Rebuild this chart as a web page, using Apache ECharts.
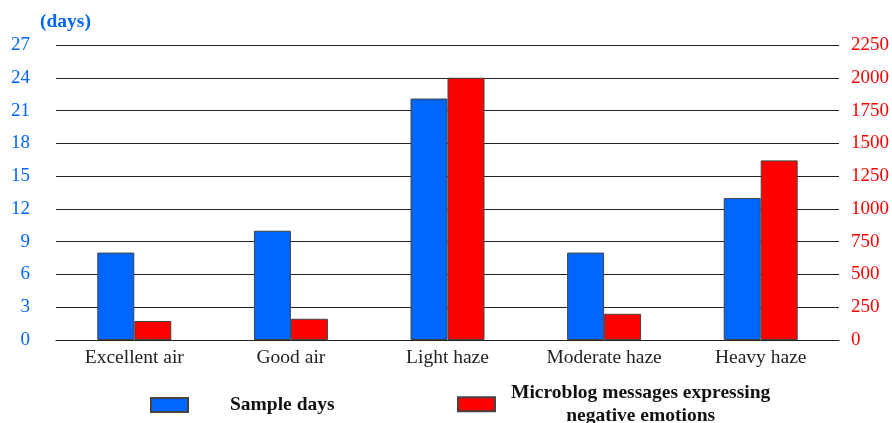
<!DOCTYPE html>
<html>
<head>
<meta charset="utf-8">
<script src="https://cdn.jsdelivr.net/npm/echarts@6/dist/echarts.min.js"></script>
<style>html,body{margin:0;padding:0;background:#fff;}#c{width:892px;height:423px;}</style>
</head>
<body>
<div id="c"></div>
<script>
const categories = ['Excellent air', 'Good air', 'Light haze', 'Moderate haze', 'Heavy haze'];
const sampleDays = [8, 10, 22.1, 8, 13];
const negativeMessages = [145, 162, 2000, 200, 1370];
const leftTicks = {min: 0, max: 27, interval: 3};
const rightTicks = {min: 0, max: 2250, interval: 250};
const seriesNames = ['Sample days', 'Microblog messages expressing negative emotions'];

const serif = '"Liberation Serif", "Times New Roman", serif';
const blue = '#0066ff';
const red = '#ff0000';

const chart = echarts.init(document.getElementById('c'));
chart.setOption({
  animation: false,
  grid: {left: 56, right: 50, top: 45, bottom: 83},
  legend: [
    {
      data: [seriesNames[0]],
      left: 150, top: 395, padding: 0,
      itemWidth: 37, itemHeight: 14,
      icon: 'rect',
      textStyle: {fontFamily: serif, fontSize: 19.5, fontWeight: 'bold', color: '#111', padding: [0, 0, 0, 37]}
    },
    {
      data: [seriesNames[1]],
      left: 457, top: 383, padding: 0,
      itemWidth: 37, itemHeight: 14,
      icon: 'rect',
      formatter: function () {
        return '{a|Microblog messages expressing}\n{a|negative emotions}';
      },
      textStyle: {
        fontFamily: serif, fontSize: 19.5, fontWeight: 'bold', color: '#111',
        rich: {a: {fontFamily: serif, fontSize: 19.5, fontWeight: 'bold', color: '#111', align: 'center', lineHeight: 22.5, padding: [0, 0, 0, 11]}}
      }
    }
  ],
  xAxis: {
    type: 'category',
    data: categories,
    axisLine: {show: true, lineStyle: {color: '#222', width: 1.2}},
    axisTick: {show: false},
    axisLabel: {fontFamily: serif, fontSize: 19.5, color: '#222', margin: 8}
  },
  yAxis: [
    {
      type: 'value',
      min: leftTicks.min, max: leftTicks.max, interval: leftTicks.interval,
      name: '(days)',
      nameLocation: 'end',
      nameGap: 13,
      nameTextStyle: {fontFamily: serif, fontSize: 19.5, fontWeight: 'bold', color: blue, align: 'left', padding: [0, 0, 0, -16]},
      axisLine: {show: false},
      axisTick: {show: false},
      axisLabel: {fontFamily: serif, fontSize: 19, color: blue, margin: 26},
      splitLine: {show: true, lineStyle: {color: '#222', width: 1.2}}
    },
    {
      type: 'value',
      min: rightTicks.min, max: rightTicks.max, interval: rightTicks.interval,
      axisLine: {show: false},
      axisTick: {show: false},
      axisLabel: {fontFamily: serif, fontSize: 19, color: red, margin: 12, formatter: function (v) { return String(v); }},
      splitLine: {show: false}
    }
  ],
  series: [
    {
      name: seriesNames[0], type: 'bar', yAxisIndex: 0, data: sampleDays,
      barWidth: 37, barGap: '0%',
      itemStyle: {color: blue, borderColor: '#444', borderWidth: 1}
    },
    {
      name: seriesNames[1], type: 'bar', yAxisIndex: 1, data: negativeMessages,
      barWidth: 37, barGap: '0%',
      itemStyle: {color: red, borderColor: '#444', borderWidth: 1}
    }
  ]
});
</script>
</body>
</html>
